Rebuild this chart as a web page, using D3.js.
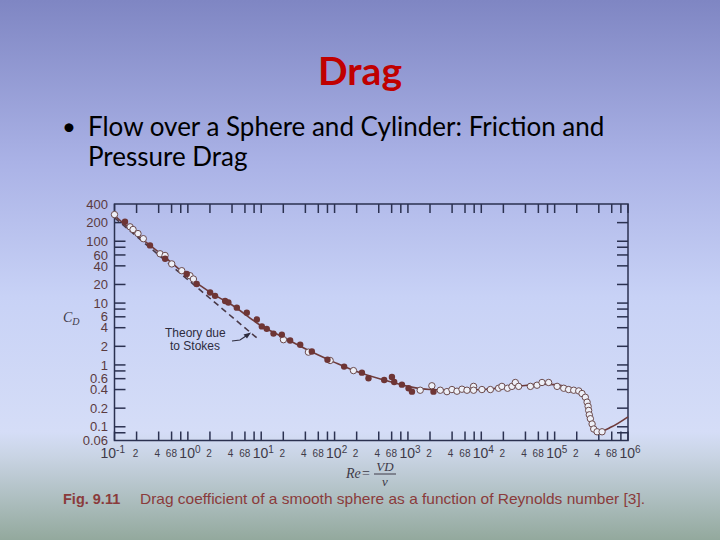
<!DOCTYPE html>
<html><head><meta charset="utf-8">
<script src="https://cdn.jsdelivr.net/npm/d3@7"></script>
<style>body{margin:0;padding:0;overflow:hidden}svg{display:block}</style>
</head><body>
<script>
// ---- data ----
const curveRe = [0.1,0.2,0.5,1,2,4,10,20,50,100,200,500,1000,2000,5000,1e4,3e4,7e4,1e5,1.5e5,2.2e5,2.7e5,3e5,3.4e5,4e5,6e5,1e6];
const curveCd = [260,128,54,27,15,9.3,4.3,2.8,1.6,1.1,0.78,0.56,0.45,0.40,0.39,0.40,0.45,0.49,0.48,0.44,0.37,0.27,0.17,0.10,0.083,0.10,0.145];

const filledRe = [0.139,0.305,0.49,0.966,1.32,2.01,2.35,3.22,3.57,4.65,6.36,8.71,10.2,11.9,14.7,19.1,24.8,34,49,80,135,236,290,475,605,650,828,1020,1135,2230];
const filledCd = [207,85.7,52,29.6,20.3,14.8,13.1,10.8,10.2,8.44,7.0,5.43,4.2,3.83,3.21,3.09,2.49,2.12,1.65,1.21,0.94,0.75,0.61,0.57,0.64,0.53,0.48,0.42,0.37,0.37];

const openRe = [0.1,0.163,0.179,0.209,0.247,0.418,0.489,0.603,0.826,1.07,1.19,20.1,44,87,181,1470,2120,2760,3400,3980,4660,5450,6380,7850,7850,10200,13300,17200,19100,22800,26200,29100,32300,46700,57500,67300,82800,108000,133000,155000,182000,213000,236000,262000,277000,286000,291000,297000,307000,324000,341000,379000,443000];
const openCd = [270,171,155,133,110,62.7,58.9,43,33.4,27.7,24.5,2.56,1.61,1.18,0.81,0.39,0.46,0.39,0.37,0.40,0.376,0.405,0.39,0.45,0.39,0.40,0.40,0.42,0.45,0.42,0.45,0.52,0.45,0.45,0.47,0.52,0.52,0.45,0.42,0.40,0.39,0.38,0.345,0.30,0.25,0.214,0.184,0.156,0.135,0.111,0.092,0.083,0.083];

const stokesRe = [0.1, 9];
const stokesCd = [240, 2.65];

const yTickLabels = ["400","200","100","60","40","20","10","6","4","2","1","0.6","0.4","0.2","0.1","0.06"];
const yTickMarks = [200,100,80,60,40,20,10,8,6,4,2,1,0.8,0.6,0.4,0.2,0.1,0.08];
const decadeExps = [-1,0,1,2,3,4,5,6];
const decadeSup = ["-1","0","1","2","3","4","5","6"];
const minorMults = [2,4,6,8];
const minorLabels = ["2","4","6","8"];

const W = 720, H = 540;
const svg = d3.select("body").append("svg").attr("width", W).attr("height", H);

// background
const defs = svg.append("defs");
const g = defs.append("linearGradient").attr("id","bg").attr("x1",0).attr("y1",0).attr("x2",0).attr("y2",1);
[[0,"#7f86c3"],[0.3,"#aab2e6"],[0.55,"#c8d2f6"],[0.8,"#d5ddf7"],[0.845,"#c9d4e4"],[1,"#93a99d"]]
  .forEach(([o,c]) => g.append("stop").attr("offset",o).attr("stop-color",c));
svg.append("rect").attr("width",W).attr("height",H).attr("fill","url(#bg)");

// title + bullet
svg.append("text").attr("x",360).attr("y",85).attr("text-anchor","middle")
  .attr("font-family","Lato, 'Open Sans', sans-serif").attr("font-weight","bold")
  .attr("font-size",39).attr("fill","#c00000").text("Drag");
svg.append("text").attr("x",62).attr("y",135).attr("font-family","Lato, sans-serif")
  .attr("font-size",24).attr("fill","#000").text("•");
svg.append("text").attr("x",88).attr("y",136).attr("font-family","Lato, sans-serif")
  .attr("font-size",26).attr("fill","#000").text("Flow over a Sphere and Cylinder: Friction and");
svg.append("text").attr("x",88).attr("y",166).attr("font-family","Lato, sans-serif")
  .attr("font-size",26).attr("fill","#000").text("Pressure Drag");

// scales
const x = d3.scaleLog().domain([0.1, 1e6]).range([114.5, 628]);
const y = d3.scaleLog().domain([0.06, 400]).range([440.5, 204]);
const x0 = x.range()[0], x1 = x.range()[1], y0 = y.range()[0], y1 = y.range()[1];
const axisColor = "#2b3150";

// frame
svg.append("rect").attr("x",x0).attr("y",y1).attr("width",x1-x0).attr("height",y0-y1)
  .attr("fill","none").attr("stroke",axisColor).attr("stroke-width",1.5);

// y ticks left and right
const yt = svg.append("g");
yTickMarks.forEach(v => {
  yt.append("line").attr("x1",x0).attr("x2",x0+11).attr("y1",y(v)).attr("y2",y(v))
    .attr("stroke",axisColor).attr("stroke-width",1.5);
  yt.append("line").attr("x1",x1-11).attr("x2",x1).attr("y1",y(v)).attr("y2",y(v))
    .attr("stroke",axisColor).attr("stroke-width",1.5);
});
yTickLabels.forEach(s => {
  yt.append("text").attr("x",108).attr("y",y(+s)).attr("dy","0.36em").attr("text-anchor","end")
    .attr("font-family","'Liberation Sans', Arial, sans-serif").attr("font-size",13)
    .attr("fill","#5a3a3e").text(s);
});

// x ticks top and bottom
const xt = svg.append("g");
const xTickVals = [];
decadeExps.forEach(e => {
  xTickVals.push(Math.pow(10,e));
  if (e < 6) minorMults.forEach(m => xTickVals.push(m*Math.pow(10,e)));
});
xTickVals.forEach(v => {
  xt.append("line").attr("x1",x(v)).attr("x2",x(v)).attr("y1",y1).attr("y2",y1+9)
    .attr("stroke",axisColor).attr("stroke-width",1.5);
  xt.append("line").attr("x1",x(v)).attr("x2",x(v)).attr("y1",y0-9).attr("y2",y0)
    .attr("stroke",axisColor).attr("stroke-width",1.5);
});
// bottom labels
const lblFont = "'Liberation Sans', Arial, sans-serif";
decadeExps.forEach((e,k) => {
  const t = xt.append("text").attr("x",x(Math.pow(10,e)) + (e < 0 ? -14 : -8.5)).attr("y",458)
    .attr("font-family",lblFont).attr("font-size",14).attr("fill","#3e3a48");
  t.append("tspan").text("10");
  t.append("tspan").attr("font-size",10).attr("dy",-5).text(decadeSup[k]);
  if (e < 6) {
    minorMults.forEach((m,i) => {
      const off = [ -1, -1.5, -3, -6.5 ][i];
      xt.append("text").attr("x",x(m*Math.pow(10,e))+off).attr("y",457).attr("text-anchor","middle")
        .attr("font-family",lblFont).attr("font-size",10).attr("fill","#3e3a48").text(minorLabels[i]);
    });
  }
});

// axis titles
const cd = svg.append("text").attr("x",63).attr("y",322).attr("font-family","'Liberation Serif', serif")
  .attr("font-style","italic").attr("font-size",14).attr("fill","#3e3a48");
cd.append("tspan").text("C");
cd.append("tspan").attr("font-size",10).attr("dy",3).text("D");

svg.append("text").attr("x",346).attr("y",478).attr("font-family","'Liberation Serif', serif")
  .attr("font-style","italic").attr("font-size",14).attr("fill","#3e3a48").text("Re");
svg.append("text").attr("x",362).attr("y",478).attr("font-family","'Liberation Serif', serif")
  .attr("font-size",14).attr("fill","#3e3a48").text("=");
svg.append("text").attr("x",385).attr("y",471).attr("text-anchor","middle").attr("font-family","'Liberation Serif', serif")
  .attr("font-style","italic").attr("font-size",13).attr("fill","#3e3a48").text("VD");
svg.append("line").attr("x1",374).attr("x2",396).attr("y1",474).attr("y2",474).attr("stroke","#3e3a48").attr("stroke-width",1);
svg.append("text").attr("x",385).attr("y",486).attr("text-anchor","middle").attr("font-family","'Liberation Serif', serif")
  .attr("font-style","italic").attr("font-size",13).attr("fill","#3e3a48").text("ν");

// Stokes dashed line
const stokes = stokesRe.map((r,i) => [r, stokesCd[i]]);
svg.append("path").datum(stokes)
  .attr("d", d3.line().x(d => x(d[0])).y(d => y(d[1])))
  .attr("fill","none").attr("stroke","#4a3a48").attr("stroke-width",1.6).attr("stroke-dasharray","6,4");

// main curve
const curve = curveRe.map((r,i) => [r, curveCd[i]]);
svg.append("path").datum(curve)
  .attr("d", d3.line().x(d => x(d[0])).y(d => y(d[1])).curve(d3.curveMonotoneX))
  .attr("fill","none").attr("stroke","#6e3b3b").attr("stroke-width",1.6);

// open circles
svg.append("g").selectAll("circle").data(openRe.map((r,i)=>[r,openCd[i]])).join("circle")
  .attr("cx", d => x(d[0])).attr("cy", d => y(d[1])).attr("r",3.2)
  .attr("fill","#eef0f8").attr("stroke","#6a4a4c").attr("stroke-width",1);

// filled circles
svg.append("g").selectAll("circle").data(filledRe.map((r,i)=>[r,filledCd[i]])).join("circle")
  .attr("cx", d => x(d[0])).attr("cy", d => y(d[1])).attr("r",3.2)
  .attr("fill","#6e3535");

// annotation
svg.append("text").attr("x",165).attr("y",337).attr("font-family",lblFont).attr("font-size",12)
  .attr("fill","#2e2c3e").text("Theory due");
svg.append("text").attr("x",170).attr("y",350).attr("font-family",lblFont).attr("font-size",12)
  .attr("fill","#2e2c3e").text("to Stokes");
svg.append("path").attr("d","M232,341 L240,340 L249,334").attr("fill","none").attr("stroke","#2e2c3e").attr("stroke-width",1.2);
svg.append("path").attr("d","M251,332.5 L243.5,334.5 L247,338.5 Z").attr("fill","#2e2c3e");

// caption
svg.append("text").attr("x",63).attr("y",504).attr("font-family",lblFont)
  .attr("font-size",14.5).attr("font-weight","bold").attr("fill","#8a3b3b").text("Fig. 9.11");
svg.append("text").attr("x",140).attr("y",504).attr("font-family",lblFont)
  .attr("font-size",14.5).attr("fill","#8a3b3b")
  .attr("textLength",505).attr("lengthAdjust","spacingAndGlyphs")
  .text("Drag coefficient of a smooth sphere as a function of Reynolds number [3].");
</script>
</body></html>
